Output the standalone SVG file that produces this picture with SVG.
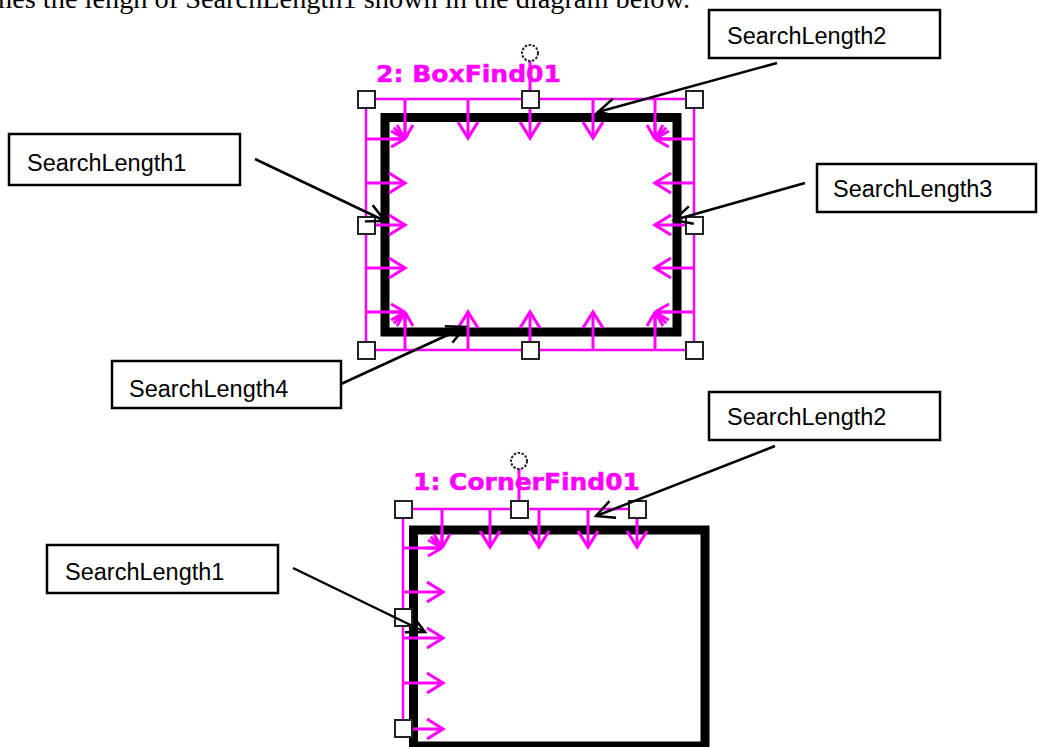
<svg xmlns="http://www.w3.org/2000/svg" xmlns:xlink="http://www.w3.org/1999/xlink" width="1039" height="747" viewBox="0 0 1039 747">
<style>
.mg{stroke:#ff00ff;stroke-width:2.5;fill:none}
.sh{stroke:#ff00ff;stroke-width:3;fill:none}
.shm{stroke:#ff00ff;stroke-width:3;fill:none;marker-end:url(#mh)}
.bord{fill:none;stroke:#000;stroke-width:9}
.hd{fill:#fff;stroke:#222;stroke-width:2}
.rot{fill:#fff;stroke:#222;stroke-width:2;stroke-dasharray:2.5 1.5}
.lbl{font-family:"DejaVu Sans",Verdana,sans-serif;font-weight:bold;font-size:23.5px;fill:#ff00ff;stroke:#ff00ff;stroke-width:0.5}
.box{fill:#fff;stroke:#000;stroke-width:2.5}
.bt{font-family:"Liberation Sans",Arial,sans-serif;font-size:23.5px;fill:#000}
.ld{stroke:#000;stroke-width:2.5;fill:none;marker-end:url(#ah)}
</style>
<defs>
<marker id="mh" markerUnits="userSpaceOnUse" markerWidth="40" markerHeight="40" viewBox="-20 -20 40 40" refX="0" refY="0" orient="auto" overflow="visible">
<path d="M-16,-10 L0,0 L-16,10" fill="none" stroke="#ff00ff" stroke-width="3.2"/>
</marker>
<marker id="ah" markerUnits="userSpaceOnUse" markerWidth="40" markerHeight="40" viewBox="-20 -20 40 40" refX="0" refY="0" orient="auto" overflow="visible">
<path d="M-18,-9 L0,0 L-18,9" fill="none" stroke="#000" stroke-width="2.5"/>
</marker>
<path id="fan" d="M0,0 l-13.9,8 M0,0 l-16,0 M0,0 l-13.9,-8 M0,0 l-11.3,-11.3 M0,0 l-8,-13.9 M0,0 l0,-16 M0,0 l8,-13.9" fill="none" stroke="#ff00ff" stroke-width="3"/>
</defs>
<rect width="1039" height="747" fill="#fff"/>
<text x="-2" y="8" font-family="'Liberation Serif','Times New Roman',serif" font-size="28" fill="#000" textLength="692" lengthAdjust="spacingAndGlyphs">nes the lengh of SearchLength1 shown in the diagram below.</text>

<g id="boxfind">
<rect class="bord" x="385" y="117.5" width="292" height="214.5"/>
<path class="mg" d="M366,99 H694 V350 H366 Z"/>
<text class="lbl" x="376" y="82" textLength="185" lengthAdjust="spacingAndGlyphs">2: BoxFind01</text>
<path class="sh" d="M530,61 V99"/>
<g>
<line class="shm" x1="468" y1="99" x2="468" y2="138"/>
<line class="shm" x1="530" y1="99" x2="530" y2="138"/>
<line class="shm" x1="593" y1="99" x2="593" y2="138"/>
<line class="shm" x1="468" y1="350" x2="468" y2="312"/>
<line class="shm" x1="530" y1="350" x2="530" y2="312"/>
<line class="shm" x1="593" y1="350" x2="593" y2="312"/>
<line class="shm" x1="366" y1="183" x2="405" y2="183"/>
<line class="shm" x1="366" y1="225" x2="405" y2="225"/>
<line class="shm" x1="366" y1="268" x2="405" y2="268"/>
<line class="shm" x1="694" y1="183" x2="655" y2="183"/>
<line class="shm" x1="694" y1="225" x2="655" y2="225"/>
<line class="shm" x1="694" y1="268" x2="655" y2="268"/>
<path class="sh" d="M405,99 V139 M366,139 H405 M655,99 V139 M694,139 H655 M405,350 V312 M366,312 H405 M655,350 V312 M694,312 H655"/>
<use xlink:href="#fan" transform="translate(405,139)"/>
<use xlink:href="#fan" transform="translate(655,139) scale(-1,1)"/>
<use xlink:href="#fan" transform="translate(405,312) scale(1,-1)"/>
<use xlink:href="#fan" transform="translate(655,312) scale(-1,-1)"/>
</g>
<circle class="rot" cx="530" cy="53" r="8"/>
<rect class="hd" x="358" y="91" width="17" height="17"/>
<rect class="hd" x="522" y="91" width="17" height="17"/>
<rect class="hd" x="686" y="91" width="17" height="17"/>
<rect class="hd" x="358" y="217" width="17" height="17"/>
<rect class="hd" x="686" y="217" width="17" height="17"/>
<rect class="hd" x="358" y="342" width="17" height="17"/>
<rect class="hd" x="522" y="342" width="17" height="17"/>
<rect class="hd" x="686" y="342" width="17" height="17"/>
</g>

<g id="cornerfind">
<rect class="bord" x="413.5" y="530" width="291.5" height="216"/>
<path class="mg" d="M637,509 H403 V728"/>
<text class="lbl" x="413" y="490" textLength="227" lengthAdjust="spacingAndGlyphs">1: CornerFind01</text>
<path class="sh" d="M519,468 V509"/>
<line class="shm" x1="490" y1="509" x2="490" y2="547"/>
<line class="shm" x1="539" y1="509" x2="539" y2="547"/>
<line class="shm" x1="588" y1="509" x2="588" y2="547"/>
<line class="shm" x1="637" y1="509" x2="637" y2="547"/>
<line class="shm" x1="403" y1="592" x2="443" y2="592"/>
<line class="shm" x1="403" y1="638" x2="443" y2="638"/>
<line class="shm" x1="403" y1="683" x2="443" y2="683"/>
<line class="shm" x1="403" y1="729" x2="443" y2="729"/>
<path class="sh" d="M442,509 V548 M403,548 H442"/>
<use xlink:href="#fan" transform="translate(442,548)"/>
<circle class="rot" cx="519" cy="461" r="8"/>
<rect class="hd" x="395" y="501" width="17" height="17"/>
<rect class="hd" x="511" y="501" width="17" height="17"/>
<rect class="hd" x="629" y="501" width="17" height="17"/>
<rect class="hd" x="395" y="609" width="17" height="17"/>
<rect class="hd" x="395" y="720" width="17" height="17"/>
</g>

<g id="connectors">
<line class="ld" x1="255" y1="159" x2="385" y2="221"/>
<line class="ld" x1="777" y1="63" x2="598" y2="112"/>
<line class="ld" x1="805" y1="183" x2="674" y2="220"/>
<line class="ld" x1="341" y1="384" x2="465" y2="327"/>
<line class="ld" x1="775" y1="446" x2="596" y2="516"/>
<line class="ld" x1="293" y1="568" x2="425" y2="632"/>
</g>

<g id="sl2a"><rect class="box" x="709" y="10" width="231" height="48"/><text class="bt" x="727" y="44">SearchLength2</text></g>
<g id="sl1a"><rect class="box" x="9" y="134" width="231" height="51"/><text class="bt" x="27" y="171">SearchLength1</text></g>
<g id="sl3a"><rect class="box" x="817" y="164" width="219" height="48"/><text class="bt" x="833" y="197">SearchLength3</text></g>
<g id="sl4a"><rect class="box" x="112" y="361" width="229" height="47"/><text class="bt" x="129" y="397">SearchLength4</text></g>
<g id="sl2b"><rect class="box" x="709" y="392" width="231" height="48"/><text class="bt" x="727" y="425">SearchLength2</text></g>
<g id="sl1b"><rect class="box" x="47" y="545" width="231" height="48"/><text class="bt" x="65" y="580">SearchLength1</text></g>
</svg>
